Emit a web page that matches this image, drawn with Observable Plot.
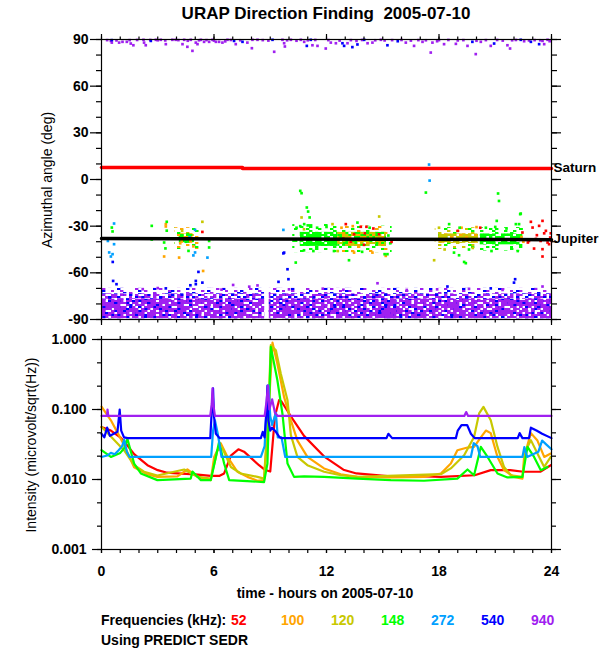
<!DOCTYPE html>
<html><head><meta charset="utf-8">
<script src="https://cdn.jsdelivr.net/npm/d3@7"></script>
<script src="https://cdn.jsdelivr.net/npm/@observablehq/plot@0.6"></script>
<style>
body{margin:0;background:#fff;}
#root{position:relative;width:600px;height:650px;background:#fff;font-family:"Liberation Sans",Arial,sans-serif;color:#000;overflow:hidden}
.abs{position:absolute;white-space:pre;line-height:1}
</style></head><body><div id="root"></div>
<script>
// ---------- data ----------
const freqs = [52, 100, 120, 148, 272, 540, 940];
const freqColors = ["#ff0000", "#ffa500", "#c8c800", "#00ff00", "#00a0ff", "#0000ff", "#a020f0"];
const hourTicks = [0, 6, 12, 18, 24];
const angleTicks = [-90, -60, -30, 0, 30, 60, 90];
const intensityTicks = [1, 0.1, 0.01, 0.001];

// reference directions
const saturnH = [0, 7.52, 7.52, 24];
const saturnA = [7.7, 7.7, 7.1, 7.1];
const saturnSeg = [0, 0, 1, 1];
const jupiterH = [0, 24];
const jupiterA = [-37.9, -38.7];

// dense background band near -90 (hours, degrees)
const bandStart = [0, 8.95];
const bandEnd = [8.7, 24];
const bandLow = [-89.5, -89.5];
const bandDense = [-77, -77];
const bandMid = [-73.5, -73.5];
const bandTop = [-70, -70];

// Jupiter-direction clusters: dense core and looser halo
const clusterName = ["A", "B", "C", "D", "E"];
const coreStart = [4.15, 10.6, 12.6, 18.0, 20.2];
const coreEnd = [4.95, 12.6, 15.2, 20.1, 22.3];
const coreLow = [-41, -43, -43, -41, -42];
const coreHigh = [-35, -34, -34, -35, -35];
const haloStart = [3.9, 10.2, 12.6, 17.8, 20.2];
const haloEnd = [5.3, 12.6, 15.5, 20.2, 22.5];
const haloLow = [-45, -47, -47, -45, -46];
const haloHigh = [-31, -29, -30, -31, -31];

// scattered direction points [hour, azimuth deg]
const pts940 = [[0.50,89.1],[0.55,88.0],[0.94,88.0],[1.12,88.5],[1.35,88.5],[1.56,87.4],[1.70,86.3],[2.24,89.8],[2.27,88.0],[2.36,86.3],[2.90,89.8],[3.16,89.8],[3.43,87.0],[3.78,89.8],[3.96,89.8],[4.32,87.0],[4.41,89.8],[4.58,85.3],[4.76,89.8],[4.85,82.7],[5.03,88.0],[5.12,87.0],[5.30,89.8],[5.47,88.5],[5.74,88.5],[5.92,89.8],[6.10,88.5],[6.27,88.5],[6.45,88.0],[6.72,89.8],[7.16,87.0],[7.78,88.0],[8.05,89.8],[8.02,84.4],[8.32,89.8],[9.21,82.1],[9.65,89.8],[9.74,87.6],[9.78,85.5],[10.10,89.8],[10.63,89.8],[10.81,88.5],[11.25,86.3],[11.52,85.9],[11.96,84.2],[12.23,88.0],[12.50,87.6],[13.12,87.6],[14.19,87.6],[14.45,88.0],[14.90,89.8],[16.23,88.0],[16.67,85.9],[17.12,88.5],[17.56,81.6],[17.65,88.0],[18.27,87.0],[18.90,87.2],[19.52,85.9],[19.96,80.6],[20.23,88.5],[20.76,85.9],[21.65,86.3],[21.79,84.2],[22.54,88.9],[23.52,89.1],[23.61,87.0],[23.79,89.8],
[0.3,89.6],[1.9,89.7],[3.0,89.5],[5.6,89.6],[6.9,89.7],[8.6,89.6],[9.9,89.5],[11.4,89.7],[12.1,89.6],[13.3,89.6],[13.9,89.7],[14.6,89.5],[15.5,89.6],[16.0,89.7],[16.9,89.6],[17.3,89.5],[18.0,89.6],[18.5,89.7],[19.3,89.6],[20.5,89.6],[21.1,89.7],[21.9,89.5],[22.1,89.7],[23.1,89.6],
[0.8,89.4],[1.5,89.6],[2.6,89.7],[3.4,89.4],[4.1,89.6],[4.6,89.2],[5.2,89.5],[6.0,89.3],[6.6,88.8],[7.4,89.5],[8.9,89.3],[10.4,89.2],[11.0,89.5],[12.7,89.3],[13.6,89.1],[15.1,89.4],[16.5,89.3],[17.9,88.9],[19.0,89.4],[20.0,89.2],[21.4,89.3],[22.8,89.4],[23.4,89.5],[23.9,88.9],
[7.02,-67.8],[7.88,-68.9],[8.32,-68.1],[10.0,-70.6],[11.8,-70.2],[14.72,-66.7],[16.28,-71],[21.39,-71],[23.52,-68.8],[2.2,-70.5],[3.0,-69.8],[6.4,-70.8],[12.9,-70.9],[17.9,-70.6],[19.6,-70.3]];
const pts540 = [[2.63,89.1],[7.07,89.1],[7.52,88.5],[9.12,89.8],[10.95,85.9],[11.16,89.8],[12.85,87.6],[12.94,85.9],[13.38,85.1],[13.65,86.8],[14.01,89.8],[15.25,86.3],[15.80,88.9],[19.78,88.5],[20.94,87.4],[22.36,89.8],[22.90,88.5],[23.34,87.0],[0.55,89.6],
[0.62,-65.2],[0.80,-67.3],[3.43,-70],[4.74,-68],[5.03,-65.2],[5.03,-67.3],[5.17,-59.4],[5.38,-66.3],[9.44,-65.8],[9.92,-57.7],[9.97,-64.1],[18.45,-68.8],[20.76,-70],[22.0,-66.3],[22.06,-64.1],[9.74,-47],[0.6,-53],[9.7,-47.5]];
const pts272 = [[0.67,-28.3],[0.89,-37.9],[0.34,-39.5],[0.67,-41.6],[0.41,-46.9],[0.59,-48],[0.5,-49.5],[4.99,-32.4],[4.99,-46.9],[4.9,-48.8],[5.65,-50.2],[9.7,-32.4],[17.47,9.6],[17.5,-0.7],[4.7,-37],[4.5,-40]];
const pts148 = [[0.55,-30.9],[0.59,-33.4],[2.68,-29.8],[2.68,-38.6],[3.48,-27.2],[3.48,-32.9],[3.34,-40.5],[3.41,-44.3],[4.64,-45.9],[5.74,-39.5],[5.74,-43.7],[10.36,-53.4],[10.6,-7.3],[10.67,-8.8],[10.95,-18],[11.02,-20.6],[10.81,-28.7],[11.1,-24.4],[13.2,-51.9],[15.25,-48],[15.1,-48],[13.65,-27.7],[18.54,-28.7],[19.34,-53],[19.43,-53.8],[21.08,-26.6],[22.33,-22.3],[22.27,-28.7],[18.8,-47],[19.07,-48.7],[21.2,-13.8],[17.3,-8.4],[21.15,-9],[22.36,-21.9],[22.1,-28.7],[4.3,-36],[4.5,-40],[4.6,-35],
[10.4,-31],[10.6,-30],[11.0,-29.5],[11.5,-31],[12.0,-30.5],[12.4,-46],[11.3,-46],[10.8,-45.5],[13.9,-46.5],[14.3,-31],[15.3,-36],[15.4,-41],[20.5,-31],[21.0,-30.5],[21.6,-31.5],[22.2,-46],[20.8,-46],[19.6,-45],[19.1,-31]];
const pts120 = [[5.38,-27.2],[14.81,-23.8],[12.32,-28.7],[17.74,-51.9],[4.3,-33],[10.8,-32],[12.6,-46],[18.0,-31],[18.3,-45],[19.8,-44],[10.67,-24.4]];
const pts100 = [[3.43,-28.7],[3.43,-30.2],[3.34,-49.5],[4.14,-50.2],[5.42,-58.8],[15.16,-49.1],[14.45,-47],[13.47,-47],[12.8,-31],[13.4,-30],[22.4,-37],[22.5,-40],[19.2,-31],[20.0,-30.6],[4.2,-41],[4.9,-43]];
const pts52 = [[5.38,-33.7],[13.03,-28.7],[13.83,-30.4],[14.04,-34.6],[14.8,-35.2],[15.47,-40.1],[13.47,-35.2],[14.13,-30.4],[14.5,-31.5],[22.9,-27.2],[23.52,-26.6],[22.99,-30.9],[23.22,-35.8],[23.07,-44.4],[23.52,-49.5],[23.7,-33],[23.79,-40.5],[23.93,-37.3],[23.42,-39.5],[22.8,-39.5],[23.34,-29.8],[23.61,-34.6],[23.87,-41.6],[23.17,-38.2],[24.0,-39.5],[23.52,-44.8],[22.74,-40.5],[22.45,-34.1],[23.96,-34.6],[20.2,-31],[19.0,-33],[13.3,-40],[14.0,-42],[12.9,-38]];

// intensity series [hour, microvolt/sqrt(Hz)]
const int52 = [[0,0.056],[0.5,0.05],[1.0,0.04],[1.21,0.035],[1.74,0.023],[2.45,0.016],[3.0,0.0136],[3.5,0.0125],[4.05,0.0122],[5.0,0.0118],[5.83,0.0113],[6.3,0.0113],[6.54,0.0122],[6.9,0.022],[7.3,0.027],[7.6,0.025],[8.0,0.02],[8.4,0.016],[8.7,0.0138],[9.0,0.013],[9.25,0.08],[9.47,0.136],[9.6,0.13],[10.1,0.08],[10.8,0.042],[11.9,0.021],[12.9,0.0138],[13.6,0.0122],[15.4,0.0111],[17.2,0.0111],[18.1,0.0109],[19.9,0.0115],[20.76,0.0136],[21.8,0.0136],[22.5,0.0129],[23.4,0.0129],[23.96,0.016]];
const int100 = [[0,0.11],[0.5,0.07],[1.21,0.031],[1.74,0.015],[2.45,0.0119],[2.98,0.0109],[4.05,0.0111],[4.58,0.0139],[5.12,0.0109],[5.83,0.0098],[6.01,0.021],[6.36,0.033],[6.72,0.021],[7.25,0.0129],[7.78,0.0109],[8.32,0.0096],[8.67,0.0098],[8.85,0.05],[9.12,0.9],[9.38,0.45],[9.74,0.15],[10.1,0.07],[10.45,0.036],[10.98,0.021],[11.87,0.0144],[12.76,0.0119],[13.65,0.0109],[15.43,0.0107],[17.2,0.0109],[18.1,0.0122],[18.63,0.0169],[18.98,0.0262],[19.52,0.0286],[19.87,0.0292],[20.23,0.04],[20.5,0.05],[20.76,0.046],[21.12,0.021],[21.47,0.0136],[22.0,0.0109],[22.45,0.0103],[22.54,0.021],[22.9,0.046],[23.25,0.036],[23.61,0.021],[23.96,0.0235]];
const int120 = [[0,0.0565],[0.5,0.041],[1.21,0.026],[1.74,0.016],[2.27,0.0129],[2.98,0.0114],[4.41,0.0139],[5.12,0.0109],[5.83,0.0103],[6.18,0.026],[6.45,0.028],[6.9,0.0151],[7.43,0.0122],[8.32,0.0109],[8.67,0.0103],[8.9,0.1],[9.03,0.83],[9.3,0.7],[9.56,0.327],[9.92,0.136],[10.1,0.043],[10.45,0.021],[10.98,0.016],[11.87,0.0129],[12.76,0.0115],[13.65,0.0109],[18.1,0.0119],[18.63,0.0144],[19.34,0.0222],[19.87,0.0406],[20.14,0.088],[20.37,0.109],[20.76,0.07],[21.12,0.0292],[21.47,0.0151],[21.83,0.0115],[22.45,0.0109],[22.63,0.026],[22.9,0.0365],[23.25,0.0235],[23.61,0.0151],[23.96,0.021]];
const int148 = [[0,0.0262],[0.5,0.021],[1.0,0.024],[1.21,0.028],[1.38,0.038],[1.74,0.0169],[2.1,0.0122],[2.98,0.0098],[4.76,0.0103],[4.85,0.013],[5.3,0.0098],[5.83,0.0098],[6.1,0.021],[6.27,0.0345],[6.54,0.0169],[6.81,0.0098],[8.67,0.0092],[8.85,0.0169],[9.03,0.785],[9.38,0.262],[9.65,0.087],[9.92,0.0169],[10.27,0.0109],[10.81,0.0111],[11.87,0.0109],[13.65,0.0103],[15.43,0.0098],[17.2,0.0096],[18.98,0.0103],[19.52,0.0139],[19.87,0.0115],[20.23,0.0292],[20.59,0.021],[21.12,0.0122],[21.65,0.0107],[22.45,0.0109],[22.72,0.0292],[23.07,0.021],[23.43,0.0136],[23.79,0.0151]];
const int272 = [[0,0.021],[0.3,0.022],[0.5,0.024],[0.7,0.023],[0.9,0.026],[1.1,0.03],[1.21,0.037],[1.35,0.025],[1.5,0.021],[5.85,0.021],[5.95,0.05],[6.05,0.07],[6.2,0.045],[6.4,0.021],[8.5,0.021],[8.7,0.03],[8.8,0.1],[8.9,0.22],[9.0,0.08],[9.1,0.06],[9.3,0.09],[9.4,0.04],[9.6,0.04],[9.8,0.021],[19.7,0.021],[19.85,0.033],[20.05,0.03],[20.2,0.021],[22.45,0.021],[22.55,0.029],[22.7,0.021],[23.3,0.025],[23.5,0.036],[23.7,0.032],[24,0.027]];
const int540 = [[0,0.045],[0.15,0.04],[0.3,0.055],[0.45,0.042],[0.65,0.045],[0.85,0.048],[0.97,0.1],[1.05,0.05],[1.2,0.04],[1.4,0.039],[5.8,0.039],[5.9,0.12],[5.95,0.2],[6.0,0.08],[6.1,0.045],[6.3,0.039],[8.5,0.039],[8.6,0.048],[8.7,0.04],[8.8,0.1],[8.85,0.22],[8.9,0.07],[9.0,0.05],[9.1,0.055],[9.3,0.048],[9.5,0.04],[9.6,0.039],[15.2,0.039],[15.3,0.045],[15.5,0.039],[18.9,0.039],[19.0,0.05],[19.2,0.06],[19.5,0.06],[19.7,0.045],[19.9,0.039],[22.2,0.039],[22.3,0.046],[22.45,0.039],[22.8,0.039],[22.9,0.055],[23.2,0.05],[23.5,0.045],[24,0.039]];
const int940 = [[0,0.081],[0.3,0.081],[0.32,0.1],[0.36,0.081],[5.8,0.081],[5.88,0.12],[5.92,0.2],[5.96,0.12],[6.05,0.081],[8.7,0.081],[8.8,0.13],[8.88,0.22],[8.95,0.1],[9.1,0.14],[9.25,0.09],[9.4,0.081],[19.35,0.081],[19.45,0.092],[19.55,0.081],[24,0.081]];

// ---------- styling: textures built from overlapping dash layouts ----------
const C = Object.fromEntries(freqs.map((f, i) => [f, freqColors[i]]));
const FONT = "'Liberation Sans', Arial, sans-serif";
const layouts = {
  L1: ["x.xx.x..xxx.x", ".xx.xxx.x..xx", "xx.x..xxx.xx.", ".x.xxx..x.xxx", "xxx..xx.xx.x.", "x..xx.xxx..xx", ".xx.x..x.xxx."],
  L2: ["x....x...x..x....", "..x.....x.....x..", "....x..x....x...x", ".x.....x..x......", "...x.x.....x..x..", "x.......x.....x..", "..x..x....x.x....", "....x...x......x.", ".x.......x..x...."],
  L3: [".x..x.x..xx", "x..x...xx..", "..xx.x...x.", "x....xx.x..", ".x.x...x..x"],
  L4: ["...x.......x.......", "x.......x.......x..", ".....x.......x.....", "..x.......x.......x", "........x....x.....", ".x...x..........x.."],
  L5: [".....x..........x......", "x..........x...........", "..........x.......x....", "....x..............x...", ".............x.........", "..x.....x.............x", "..........x............", "x................x....."]
};
const textureSpecs = {
  bandCore: [["L1", 940], ["L2", 540], ["L3", 940]],
  bandMid: [["L3", 940, true], ["L2", 540, true], ["L4", 940]],
  bandTop: [["L4", 940, true], ["L5", 540]],
  A_core: [["L1", 100], ["L2", 120], ["L3", 148, true]],
  A_halo: [["L4", 100], ["L5", 148]],
  B_core: [["L1", 148], ["L3", 148, true]],
  B_halo: [["L4", 148], ["L5", 148]],
  C_core: [["L1", 148], ["L2", 100], ["L3", 120, true]],
  C_halo: [["L4", 148], ["L5", 100]],
  D_core: [["L1", 120], ["L2", 100], ["L3", 120, true]],
  D_halo: [["L4", 120], ["L5", 148]],
  E_core: [["L1", 148], ["L2", 148, true]],
  E_halo: [["L4", 148], ["L5", 148, true]]
};
let phCount = 0;
const layerDefs = [];
const textures = Object.fromEntries(Object.entries(textureSpecs).map(([name, layers]) => [name, layers.map(([lay, f, flip]) => {
  phCount++;
  const ph = "#" + phCount.toString(16).padStart(6, "0");
  const rows = layouts[lay].map(r => flip ? [...r].reverse().join("") : r);
  layerDefs.push({ph, rows, color: C[f], id: "tx" + phCount});
  return ph;
})]));
function applyTextures(svg) {
  const ns = "http://www.w3.org/2000/svg";
  const defs = document.createElementNS(ns, "defs");
  svg.insertBefore(defs, svg.firstChild);
  for (const t of layerDefs) {
    const p = document.createElementNS(ns, "pattern");
    p.setAttribute("id", t.id);
    p.setAttribute("patternUnits", "userSpaceOnUse");
    p.setAttribute("width", t.rows[0].length * 3);
    p.setAttribute("height", t.rows.length * 2);
    t.rows.forEach((r, j) => [...r].forEach((c, i) => {
      if (c !== "x") return;
      const q = document.createElementNS(ns, "rect");
      q.setAttribute("x", i * 3); q.setAttribute("y", j * 2);
      q.setAttribute("width", 3.4); q.setAttribute("height", 2);
      q.setAttribute("fill", t.color);
      p.appendChild(q);
    }));
    defs.appendChild(p);
    svg.querySelectorAll(`[fill="${t.ph}"]`).forEach(e => e.setAttribute("fill", `url(#${t.id})`));
  }
}
const texRects = (data, tex, opts) => textures[tex].map(ph => Plot.rect(data, {...opts, fill: ph}));

// ---------- build ----------
const bands = bandStart.map((s, i) => ({h1: s, h2: bandEnd[i], lo: bandLow[i], dense: bandDense[i], mid: bandMid[i], top: bandTop[i]}));
const clusters = clusterName.map((n, i) => ({n, c1: coreStart[i], c2: coreEnd[i], cl: coreLow[i], ch: coreHigh[i], h1: haloStart[i], h2: haloEnd[i], hl: haloLow[i], hh: haloHigh[i]}));
const saturn = saturnH.map((h, i) => ({h, a: saturnA[i], s: saturnSeg[i]}));
const jupiter = jupiterH.map((h, i) => ({h, a: jupiterA[i]}));

const blank = () => "";
const hoursAll = d3.range(0, 25);
const anglesAll = d3.range(-90, 91, 10);
const intensAll = d3.range(0, 10).map(k => Math.pow(10, -k / 3));

const dotMarks = [[pts940, 940], [pts540, 540], [pts272, 272], [pts120, 120], [pts100, 100], [pts148, 148], [pts52, 52]]
  .map(([pts, f]) => Plot.dot(pts, {x: d => d[0], y: d => d[1], fill: C[f], r: 1.5, symbol: "square"}));

const clusterMarks = clusters.flatMap(c => [
  ...texRects([c], c.n + "_halo", {x1: "h1", x2: "h2", y1: "hl", y2: "hh"}),
  ...texRects([c], c.n + "_core", {x1: "c1", x2: "c2", y1: "cl", y2: "ch"})
]);

const topPlot = Plot.plot({
  width: 600, height: 330, marginLeft: 101, marginRight: 49, marginTop: 39, marginBottom: 11,
  x: {domain: [0, 24], axis: null},
  y: {domain: [-90, 90], axis: null},
  style: {fontFamily: FONT, fontSize: "14px", fontWeight: "bold", background: "transparent", overflow: "visible", color: "#000"},
  marks: [
    ...texRects(bands, "bandCore", {x1: "h1", x2: "h2", y1: "lo", y2: "dense"}),
    ...texRects(bands, "bandMid", {x1: "h1", x2: "h2", y1: "dense", y2: "mid"}),
    ...texRects(bands, "bandTop", {x1: "h1", x2: "h2", y1: "mid", y2: "top"}),
    ...clusterMarks,
    ...dotMarks,
    Plot.line(saturn, {x: "h", y: "a", z: "s", stroke: "#ff0000", strokeWidth: 3.5}),
    Plot.line(jupiter, {x: "h", y: "a", stroke: "#000", strokeWidth: 3.5}),
    Plot.text([{h: 24, a: saturnA[3], t: "Saturn"}, {h: 24, a: jupiterA[1], t: "Jupiter"}],
      {x: "h", y: "a", text: "t", dx: 2, dy: -1, textAnchor: "start", fontWeight: "bold", fontSize: 13.5, fill: "#000"}),
    Plot.frame({stroke: "#000", strokeWidth: 1.2}),
    Plot.axisY({ticks: angleTicks, anchor: "left", tickSize: 11, tickPadding: 2, tickFormat: d => String(d), label: null, strokeWidth: 1.2}),
    Plot.axisY({ticks: anglesAll, anchor: "left", tickSize: 5, tickFormat: blank, label: null, strokeWidth: 1.2}),
    Plot.axisY({ticks: angleTicks, anchor: "right", tickSize: 9, tickFormat: blank, label: null, strokeWidth: 1.2}),
    Plot.axisY({ticks: anglesAll, anchor: "right", tickSize: 5, tickFormat: blank, label: null, strokeWidth: 1.2}),
    Plot.axisX({ticks: hourTicks, anchor: "top", tickSize: 6, tickFormat: blank, label: null, strokeWidth: 1.2}),
    Plot.axisX({ticks: hoursAll, anchor: "top", tickSize: 3.5, tickFormat: blank, label: null, strokeWidth: 1.2}),
    Plot.axisX({ticks: hourTicks, anchor: "bottom", tickSize: 6, tickFormat: blank, label: null, strokeWidth: 1.2}),
    Plot.axisX({ticks: hoursAll, anchor: "bottom", tickSize: 3.5, tickFormat: blank, label: null, strokeWidth: 1.2})
  ]
});
applyTextures(topPlot);

const series = [[int52, 52], [int100, 100], [int120, 120], [int148, 148], [int272, 272], [int540, 540], [int940, 940]];
const botPlot = Plot.plot({
  width: 600, height: 260, marginLeft: 101, marginRight: 49, marginTop: 9, marginBottom: 41,
  x: {domain: [0, 24], axis: null},
  y: {type: "log", domain: [0.001, 1], axis: null},
  style: {fontFamily: FONT, fontSize: "14px", fontWeight: "bold", background: "transparent", overflow: "visible", color: "#000"},
  marks: [
    ...series.map(([s, f]) => Plot.line(s, {x: d => d[0], y: d => d[1], stroke: C[f], strokeWidth: 2.2, strokeLinejoin: "round"})),
    Plot.frame({stroke: "#000", strokeWidth: 1.2}),
    Plot.axisY({ticks: intensityTicks, anchor: "left", tickSize: 9, tickPadding: 6, tickFormat: d => d.toFixed(3), label: null, strokeWidth: 1.2}),
    Plot.axisY({ticks: intensAll, anchor: "left", tickSize: 4, tickFormat: blank, label: null, strokeWidth: 1.2}),
    Plot.axisY({ticks: intensityTicks, anchor: "right", tickSize: 9, tickFormat: blank, label: null, strokeWidth: 1.2}),
    Plot.axisY({ticks: intensAll, anchor: "right", tickSize: 4, tickFormat: blank, label: null, strokeWidth: 1.2}),
    Plot.axisX({ticks: hoursAll, anchor: "top", tickSize: 4, tickFormat: blank, label: null, strokeWidth: 1.2}),
    Plot.axisX({ticks: hoursAll, anchor: "bottom", tickSize: 4, tickFormat: blank, label: null, strokeWidth: 1.2}),
    Plot.axisX({ticks: hourTicks, anchor: "bottom", tickSize: 4, tickPadding: 13, tickFormat: d => String(d), label: null, strokeWidth: 1.2})
  ]
});

// ---------- page ----------
const root = document.getElementById("root");
function place(el, top, left) { el.style.position = "absolute"; el.style.top = top + "px"; el.style.left = left + "px"; root.appendChild(el); }
place(topPlot, 0, 0);
place(botPlot, 330, 0);
function label(text, {x, y, size = 14, weight = "normal", color = "#000", anchor = "start", rotate = false}) {
  const d = document.createElement("div");
  d.className = "abs";
  d.textContent = text;
  d.style.fontSize = size + "px";
  d.style.fontWeight = weight;
  d.style.color = color;
  d.style.left = x + "px";
  d.style.top = y + "px";
  let tf = anchor === "middle" ? "translate(-50%,-50%)" : "translate(0,-50%)";
  if (rotate) tf = "translate(-50%,-50%) rotate(-90deg)";
  d.style.transform = tf;
  root.appendChild(d);
  return d;
}
label("URAP Direction Finding  2005-07-10", {x: 326, y: 13, size: 17, weight: "bold", anchor: "middle"});
label("Azimuthal angle (deg)", {x: 47, y: 180, size: 14, rotate: true});
label("Intensity (microvolt/sqrt(Hz))", {x: 31, y: 445, size: 14, rotate: true});
label("time - hours on 2005-07-10", {x: 325, y: 593, size: 14, weight: "bold", anchor: "middle"});
label("Frequencies (kHz):", {x: 101, y: 620, size: 14, weight: "bold"});
freqs.forEach((f, i) => label(String(f), {x: 231 + 50 * i, y: 620, size: 14, weight: "bold", color: freqColors[i]}));
label("Using PREDICT SEDR", {x: 101, y: 640, size: 14, weight: "bold"});
</script></body></html>
